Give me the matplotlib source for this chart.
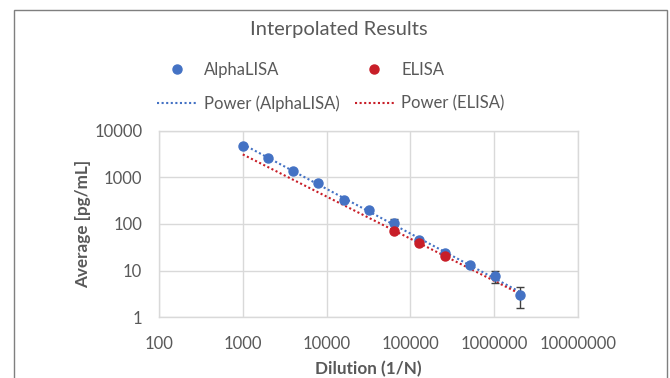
import numpy as np
import matplotlib
matplotlib.use("Agg")
import matplotlib.pyplot as plt
from matplotlib.lines import Line2D
from matplotlib.patches import Rectangle

# Data
alpha_x = [1000, 2000, 4000, 8000, 16000, 32000, 64000, 128000, 256000, 512000, 1024000, 2048000]
alpha_y = [4750, 2630, 1400, 775, 333, 204, 105, 46, 24, 13, 7.6, 3.0]
alpha_err = [0, 0, 0, 0, 0, 0, 25, 0, 0, 0, 2.2, 1.4]
elisa_x = [64000, 128000, 256000]
elisa_y = [72, 39, 20.5]
x_ticks = [100, 1000, 10000, 100000, 1000000, 10000000]
y_ticks = [1, 10, 100, 1000, 10000]

BLUE = "#4472C4"
RED = "#C81E28"
TXT = "#595959"
GRID = "#d9d9d9"
FONT = "Lato"

fig = plt.figure(figsize=(6.7, 3.78), dpi=100)
fig.patches.append(Rectangle((14/670, -0.1), (667-14)/670, 1 - 10/378 + 0.1,
                             transform=fig.transFigure, fill=False,
                             edgecolor="#7f7f7f", linewidth=1.0))
ax = fig.add_axes([159/670, 1-317/378, (578-159)/670, (317-131)/378])
ax.set_xscale("log")
ax.set_yscale("log")
ax.set_xlim(100, 1e7)
ax.set_ylim(1, 1e4)

# power fits
def power_fit(x, y, xr):
    b, a = np.polyfit(np.log10(x), np.log10(y), 1)
    xr = np.array(xr, dtype=float)
    return xr, 10 ** (a + b * np.log10(xr))

fx, fy = power_fit(alpha_x, alpha_y, [alpha_x[0], alpha_x[-1]])
ax.plot(fx, fy, ls=(0, (1, 1.2)), color=BLUE, lw=1.5, zorder=2)
ex, ey = power_fit(elisa_x, elisa_y, [alpha_x[0], alpha_x[-1]])
ax.plot(ex, ey, ls=(0, (1, 1.2)), color=RED, lw=1.5, zorder=2)

err = np.array(alpha_err)
ax.errorbar(alpha_x, alpha_y, yerr=[err, err], fmt="none", ecolor="#404040",
            elinewidth=1.0, capsize=3, capthick=1.0, zorder=3)
ax.plot(alpha_x, alpha_y, "o", color=BLUE, ms=6.5, zorder=4)
ax.plot(elisa_x, elisa_y, "o", color=RED, ms=6.5, zorder=5)

ax.set_xticks(x_ticks)
ax.set_xticklabels([str(v) for v in x_ticks])
ax.set_yticks(y_ticks)
ax.set_yticklabels([str(v) for v in y_ticks])
ax.minorticks_off()
ax.tick_params(axis="x", length=0, labelsize=12, labelcolor=TXT, pad=14)
ax.tick_params(axis="y", length=0, labelsize=12, labelcolor=TXT, pad=12)
for lab in ax.get_xticklabels() + ax.get_yticklabels():
    lab.set_family(FONT)
ax.grid(True, color=GRID, lw=1.0)
for s in ax.spines.values():
    s.set_color(GRID)
    s.set_linewidth(1.0)

ax.set_xlabel("Dilution (1/N)", fontsize=12.3, fontweight="bold", color=TXT, family=FONT, labelpad=6)
ax.set_ylabel("Average [pg/mL]", fontsize=12.3, fontweight="bold", color=TXT, family=FONT, labelpad=2)

fig.text(0.5 * (14 + 667) / 670 - 2/670, 1 - 30/378, "Interpolated Results", ha="center", va="center",
         fontsize=14.5, color=TXT, family=FONT)

handles = [
    Line2D([], [], ls="none", marker="o", color=BLUE, ms=6.5),
    Line2D([], [], ls=(0, (1, 1.2)), color=BLUE, lw=1.5),
    Line2D([], [], ls="none", marker="o", color=RED, ms=6.5),
    Line2D([], [], ls=(0, (1, 1.2)), color=RED, lw=1.5),
]
labels = ["AlphaLISA", "Power (AlphaLISA)", "ELISA", "Power (ELISA)"]
leg = fig.legend(handles, labels, ncol=2, loc="center", bbox_to_anchor=(331/670, 1 - 87/378),
                 frameon=False, prop={"family": FONT, "size": 12}, labelcolor=TXT,
                 handlelength=2.35, columnspacing=0.9, labelspacing=1.05, handletextpad=0.45)

fig.savefig("out.png", dpi=100)
